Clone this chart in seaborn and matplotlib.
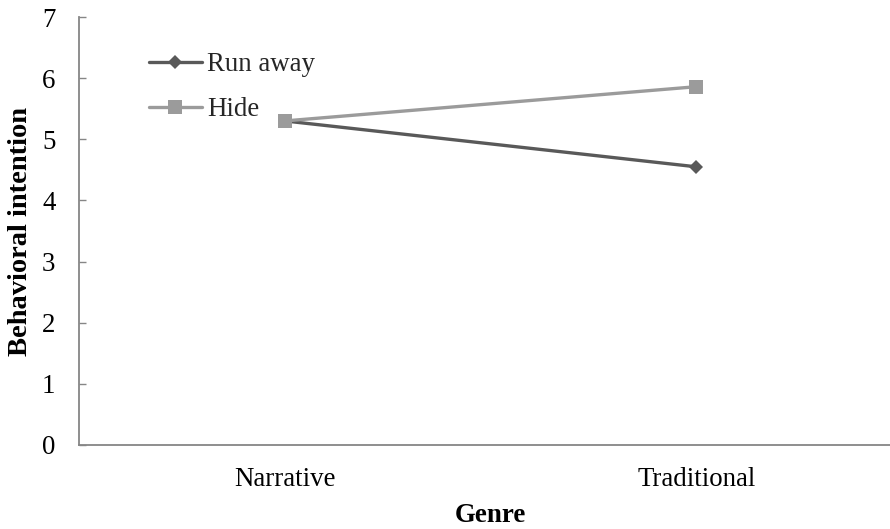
import matplotlib
matplotlib.use("Agg")
import matplotlib.pyplot as plt
import seaborn as sns
import pandas as pd

genres = ["Narrative", "Traditional"]
run_away = [5.30, 4.55]
hide = [5.30, 5.86]
series_names = ["Run away", "Hide"]
y_ticks = [0, 1, 2, 3, 4, 5, 6, 7]

df = pd.DataFrame({
    "Genre": genres * 2,
    "value": run_away + hide,
    "series": [series_names[0]] * 2 + [series_names[1]] * 2,
})

sns.set_theme(style="white")
plt.rcParams["font.family"] = ["Liberation Serif", "DejaVu Serif"]

fig = plt.figure(figsize=(8.9, 5.29), dpi=100)
ax = fig.add_axes([79 / 890, 84 / 529, (902 - 79) / 890, (445 - 17) / 529])

styles = {
    "Run away": dict(color="#595959", marker="D", markersize=7.5),
    "Hide": dict(color="#9b9b9b", marker="s", markersize=10),
}
for name in series_names:
    sub = df[df["series"] == name]
    st = styles[name]
    sns.lineplot(data=sub, x="Genre", y="value", ax=ax, label=name,
                 color=st["color"], marker=st["marker"], markersize=st["markersize"],
                 markeredgewidth=0, linewidth=2.4, sort=False)

ax.set_xlim(-0.5, 1.5)
ax.set_ylim(0, 7)
ax.set_yticks(y_ticks)
ax.set_yticklabels([str(t) for t in y_ticks])

for s in ["top", "right"]:
    ax.spines[s].set_visible(False)
for s in ["left", "bottom"]:
    ax.spines[s].set_color("#868686")
    ax.spines[s].set_linewidth(1.3)

ax.tick_params(axis="y", direction="in", length=5, width=1.0, color="#868686",
               pad=17, labelsize=19.4, labelcolor="black", left=True)
ax.tick_params(axis="x", length=0, pad=16, labelsize=19.4, labelcolor="black")

ax.set_xlabel("Genre", fontsize=19.4, fontweight="bold", labelpad=8, color="black")
ax.set_ylabel("Behavioral intention", fontsize=20.5, fontweight="bold", color="black")
ax.yaxis.set_label_coords(-46 / 823, 0.5)

leg = ax.legend(loc="upper left", bbox_to_anchor=(70 / 823, 1 - 35 / 428), frameon=False,
                fontsize=19.4, handlelength=1.95, handletextpad=0.2, labelspacing=0.75,
                borderpad=0, borderaxespad=0)

fig.savefig("out.png", dpi=100)
